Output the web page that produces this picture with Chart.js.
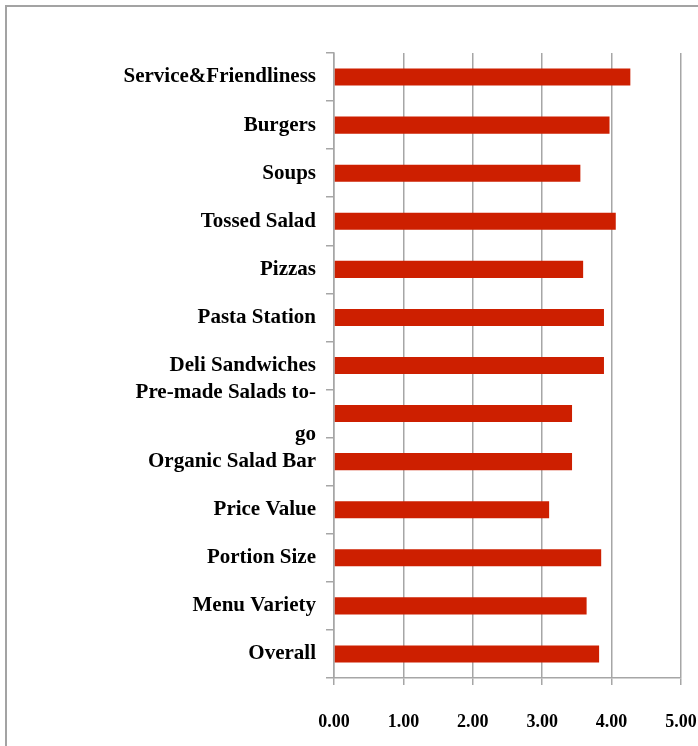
<!DOCTYPE html>
<html>
<head>
<meta charset="utf-8">
<title>Ratings</title>
<script src="https://cdn.jsdelivr.net/npm/chart.js@4/dist/chart.umd.min.js"></script>
<style>
    body { margin: 0; background: #fff; overflow: hidden; }
    #frame { position: absolute; left: 5px; top: 5px; width: 760px; height: 800px; border: 2px solid #a3a3a3; }
    #wrap { position: absolute; left: 0; top: 0; width: 698px; height: 746px; }
</style>
</head>
<body>
<div id="frame"></div>
<div id="wrap"><canvas id="chart"></canvas></div>
<script>
// Categories, top to bottom
const categories = [
    "Service&Friendliness",
    "Burgers",
    "Soups",
    "Tossed Salad",
    "Pizzas",
    "Pasta Station",
    "Deli Sandwiches",
    ["Pre-made Salads to-", "go"],
    "Organic Salad Bar",
    "Price Value",
    "Portion Size",
    "Menu Variety",
    "Overall"
];

// Average rating per category
const ratings = [4.27, 3.97, 3.55, 4.06, 3.59, 3.89, 3.89, 3.43, 3.43, 3.10, 3.85, 3.64, 3.82];

// X axis range
const xMin = 0;
const xMax = 5;
const xStep = 1;

const serif = "'Liberation Serif', 'Times New Roman', serif";

const ctx = document.getElementById("chart").getContext("2d");
new Chart(ctx, {
    type: "bar",
    data: {
        labels: categories,
        datasets: [{
            data: ratings,
            backgroundColor: "#cd1f00",
            borderWidth: 0,
            barPercentage: 0.355,
            categoryPercentage: 1.0
        }]
    },
    options: {
        indexAxis: "y",
        responsive: true,
        maintainAspectRatio: false,
        animation: false,
        layout: { padding: { top: 53, right: 0, bottom: 0, left: 0 } },
        plugins: { legend: { display: false }, tooltip: { enabled: false } },
        scales: {
            x: {
                min: xMin,
                max: xMax,
                afterFit: s => { s.height = 68; s.paddingLeft = 0; s.paddingRight = 17; },
                ticks: {
                    stepSize: xStep,
                    padding: 27,
                    maxRotation: 0,
                    color: "#000",
                    font: { family: serif, size: 18, weight: "bold" },
                    callback: v => Number(v).toFixed(2)
                },
                grid: { color: "#a6a6a6", lineWidth: 1.5, tickLength: 7 },
                border: { color: "#a6a6a6", width: 1.5 }
            },
            y: {
                afterFit: s => { s.width = 334; },
                ticks: {
                    autoSkip: false,
                    padding: 10,
                    color: "#000",
                    font: { family: serif, size: 21, weight: "bold", lineHeight: 2.0 }
                },
                grid: { drawOnChartArea: false, color: "#a6a6a6", lineWidth: 1.5, tickLength: 8, offset: true },
                border: { color: "#a6a6a6", width: 1.5 }
            }
        }
    }
});
</script>
</body>
</html>
